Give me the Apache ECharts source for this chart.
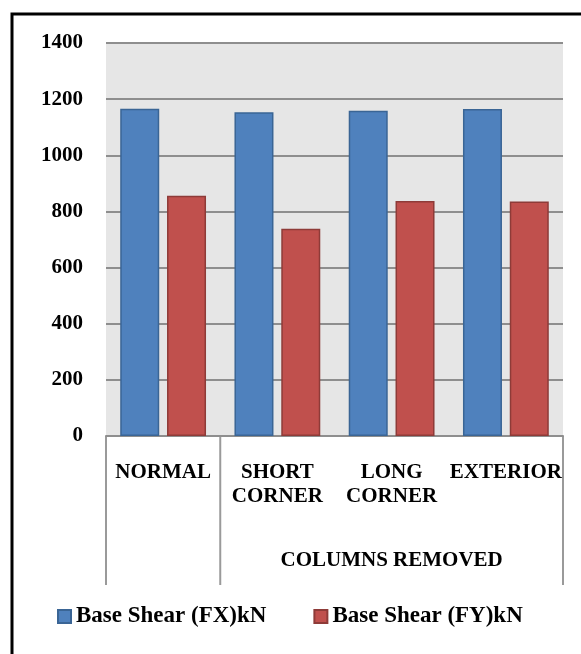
<!DOCTYPE html>
<html>
<head>
<meta charset="utf-8">
<script src="https://cdn.jsdelivr.net/npm/echarts@6/dist/echarts.min.js"></script>
<style>
  html, body { margin: 0; padding: 0; background: #ffffff; }
  #chart { width: 581px; height: 654px; }
</style>
</head>
<body>
<div id="chart"></div>
<script>
// Base shear per removal case
const categories = ['NORMAL', 'SHORT\nCORNER', 'LONG\nCORNER', 'EXTERIOR'];
const baseShearFX = [1166, 1153, 1159, 1165];
const baseShearFY = [856, 738, 837, 835];
const seriesNames = ['Base Shear (FX)kN', 'Base Shear (FY)kN'];
const groupLabel = 'COLUMNS REMOVED';
const groupStart = 1;   // first category index of the group
const groupEnd = 3;     // last category index of the group
const yMin = 0, yMax = 1400, yStep = 200;

const FONT = '"Liberation Serif", "Times New Roman", serif';
const GRID = { left: 106, right: 18, top: 43, bottom: 218 };
const SEP_LEN = 149;

const chart = echarts.init(document.getElementById('chart'), null, { renderer: 'canvas' });

const option = {
  backgroundColor: '#ffffff',
  animation: false,
  grid: Object.assign({ show: true, backgroundColor: '#E6E6E6', borderWidth: 0, containLabel: false }, GRID),
  legend: {
    data: seriesNames,
    left: 57,
    top: 605,
    padding: 0,
    icon: 'rect',
    itemWidth: 13,
    itemHeight: 13,
    itemGap: 47,
    textStyle: { fontFamily: FONT, fontWeight: 'bold', fontSize: 23, color: '#000000' }
  },
  xAxis: {
    type: 'category',
    data: categories,
    axisLine: { show: true, lineStyle: { color: '#8E8E8E', width: 2 } },
    axisTick: { show: false },
    axisLabel: {
      interval: 0,
      margin: 25,
      fontFamily: FONT,
      fontWeight: 'bold',
      fontSize: 21,
      lineHeight: 24,
      color: '#000000',
      align: 'center'
    },
    splitLine: { show: false }
  },
  yAxis: {
    type: 'value',
    min: yMin,
    max: yMax,
    interval: yStep,
    axisLine: { show: false },
    axisTick: { show: false },
    axisLabel: {
      margin: 23,
      formatter: v => String(v),
      fontFamily: FONT,
      fontWeight: 'bold',
      fontSize: 21,
      color: '#000000'
    },
    splitLine: { show: true, lineStyle: { color: '#8E8E8E', width: 2 } }
  },
  series: [
    {
      name: seriesNames[0],
      type: 'bar',
      data: baseShearFX,
      barWidth: 39,
      barGap: '20%',
      itemStyle: { color: '#4F81BD', borderColor: '#3A6595', borderWidth: 1.5 }
    },
    {
      name: seriesNames[1],
      type: 'bar',
      data: baseShearFY,
      barWidth: 39,
      barGap: '20%',
      itemStyle: { color: '#C0504D', borderColor: '#8E3B38', borderWidth: 1.5 }
    }
  ]
};

chart.setOption(option);

// Category separators below the axis and the group caption, placed from the axis scale
function drawGroupAnnotations() {
  const c0 = chart.convertToPixel({ xAxisIndex: 0 }, 0);
  const c1 = chart.convertToPixel({ xAxisIndex: 0 }, 1);
  const band = c1 - c0;
  const yAxisPx = chart.convertToPixel({ yAxisIndex: 0 }, yMin);
  const edge = i => c0 + (i - 0.5) * band;
  const seps = [edge(0), edge(groupStart), edge(groupEnd + 1)];
  const elements = seps.map(x => ({
    type: 'line',
    shape: { x1: x, y1: yAxisPx, x2: x, y2: yAxisPx + SEP_LEN },
    style: { stroke: '#9A9A9A', lineWidth: 2 },
    silent: true
  }));
  elements.push({
    type: 'text',
    x: (edge(groupStart) + edge(groupEnd + 1)) / 2,
    y: yAxisPx + 125,
    style: {
      text: groupLabel,
      fontFamily: FONT,
      fontWeight: 'bold',
      fontSize: 21,
      fill: '#000000',
      textAlign: 'center',
      textVerticalAlign: 'middle'
    },
    silent: true
  });
  // outer frame (left and top edges fall inside the canvas)
  elements.push({
    type: 'polyline',
    shape: { points: [[12, 700], [12, 14], [700, 14]] },
    style: { fill: 'none', stroke: '#000000', lineWidth: 3 },
    silent: true
  });
  chart.setOption({ graphic: { elements: elements } });
}
drawGroupAnnotations();
</script>
</body>
</html>
